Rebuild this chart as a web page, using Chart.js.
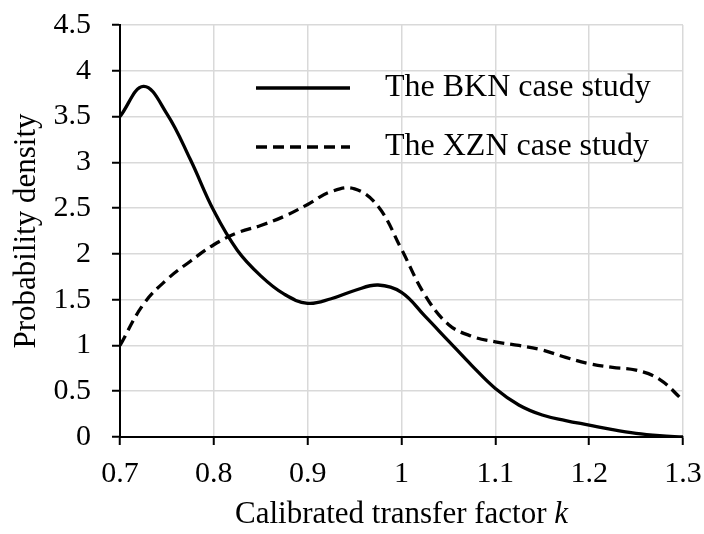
<!DOCTYPE html>
<html>
<head>
<meta charset="utf-8">
<script src="https://cdn.jsdelivr.net/npm/chart.js@4.4.0/dist/chart.umd.min.js"></script>
<style>
  html, body { margin: 0; padding: 0; background: #ffffff; }
  #wrap { width: 704px; height: 534px; }
</style>
</head>
<body>
<div id="wrap"><canvas id="c" width="704" height="534"></canvas></div>
<script>
// ---- data ----
const seriesNames = ["The BKN case study", "The XZN case study"];
const kValues = [0.7, 0.725, 0.75, 0.775, 0.8, 0.825, 0.85, 0.875, 0.9, 0.925, 0.95, 0.975, 1.0, 1.025, 1.05, 1.075, 1.1, 1.125, 1.15, 1.175, 1.2, 1.225, 1.25, 1.275, 1.3];
const pBKN = [3.5, 3.83, 3.53, 3.03, 2.47, 2.04, 1.76, 1.56, 1.46, 1.51, 1.6, 1.66, 1.58, 1.32, 1.05, 0.78, 0.53, 0.35, 0.24, 0.18, 0.13, 0.08, 0.04, 0.015, 0.0];
const pXZN = [1.0, 1.45, 1.72, 1.92, 2.1, 2.23, 2.31, 2.41, 2.54, 2.68, 2.71, 2.52, 2.05, 1.55, 1.23, 1.1, 1.04, 1.0, 0.95, 0.87, 0.8, 0.76, 0.73, 0.63, 0.4];
const xTickValues = [0.7, 0.8, 0.9, 1.0, 1.1, 1.2, 1.3];
const xTickLabels = ["0.7", "0.8", "0.9", "1", "1.1", "1.2", "1.3"];
const yTickValues = [0, 0.5, 1, 1.5, 2, 2.5, 3, 3.5, 4, 4.5];
const yTickLabels = ["0", "0.5", "1", "1.5", "2", "2.5", "3", "3.5", "4", "4.5"];
const xTitle = "Calibrated transfer factor ";
const xTitleItalic = "k";
const yTitle = "Probability density";

const FONT = "'Liberation Serif', 'Times New Roman', serif";
const toPts = (xs, ys) => xs.map((x, i) => ({ x: x, y: ys[i] }));

const legendPlugin = {
  id: 'inlineLegend',
  afterDatasetsDraw(chart) {
    const ctx = chart.ctx;
    const a = chart.chartArea;
    const x0 = a.left + 136, x1 = a.left + 230, tx = a.left + 265;
    const ys = [a.top + 63, a.top + 122];
    ctx.save();
    chart.data.datasets.forEach((ds, i) => {
      ctx.beginPath();
      ctx.lineWidth = ds.borderWidth;
      ctx.strokeStyle = ds.borderColor;
      ctx.setLineDash(ds.borderDash || []);
      ctx.moveTo(x0, ys[i]);
      ctx.lineTo(x1, ys[i]);
      ctx.stroke();
      ctx.setLineDash([]);
      ctx.fillStyle = '#000';
      ctx.font = "32px " + FONT;
      ctx.textBaseline = 'middle';
      ctx.textAlign = 'left';
      ctx.fillText(ds.label, tx, ys[i]);
    });
    ctx.restore();
  }
};

const xTitlePlugin = {
  id: 'xTitle',
  afterDraw(chart) {
    const ctx = chart.ctx;
    const a = chart.chartArea;
    ctx.save();
    ctx.fillStyle = '#000';
    ctx.textBaseline = 'middle';
    ctx.textAlign = 'left';
    ctx.font = "31px " + FONT;
    const w1 = ctx.measureText(xTitle).width;
    ctx.font = "italic 31px " + FONT;
    const w2 = ctx.measureText(xTitleItalic).width;
    const cx = (a.left + a.right) / 2;
    const y = a.bottom + 78;
    let x = cx - (w1 + w2) / 2;
    ctx.font = "31px " + FONT;
    ctx.fillText(xTitle, x, y);
    ctx.font = "italic 31px " + FONT;
    ctx.fillText(xTitleItalic, x + w1, y);
    ctx.restore();
  }
};

new Chart(document.getElementById('c'), {
  type: 'line',
  data: {
    datasets: [
      {
        label: seriesNames[0],
        data: toPts(kValues, pBKN),
        borderColor: '#000',
        borderWidth: 3.3,
        pointRadius: 0,
        fill: false,
        tension: 0.4
      },
      {
        label: seriesNames[1],
        data: toPts(kValues, pXZN),
        borderColor: '#000',
        borderWidth: 3.3,
        borderDash: [11, 6],
        pointRadius: 0,
        fill: false,
        tension: 0.4
      }
    ]
  },
  options: {
    responsive: false,
    animation: false,
    devicePixelRatio: 1,
    layout: { padding: { top: 25, right: 21, left: 0, bottom: 0 } },
    plugins: { legend: { display: false }, tooltip: { enabled: false } },
    scales: {
      x: {
        type: 'linear',
        min: 0.7,
        max: 1.3,
        afterBuildTicks: (s) => { s.ticks = xTickValues.map(v => ({ value: v })); },
        afterFit: (s) => { s.height = 97; s.paddingLeft = 0; s.paddingRight = 0; },
        ticks: {
          color: '#000',
          font: { family: FONT, size: 30 },
          padding: 11,
          maxRotation: 0,
          callback: (v) => { const i = xTickValues.findIndex(t => Math.abs(t - v) < 1e-9); return i >= 0 ? xTickLabels[i] : ''; }
        },
        grid: { color: '#d9d9d9', lineWidth: 1.5, tickColor: '#000', tickLength: 8, tickWidth: 2 },
        border: { color: '#000', width: 2 }
      },
      y: {
        min: 0,
        max: 4.5,
        afterBuildTicks: (s) => { s.ticks = yTickValues.map(v => ({ value: v })); },
        afterFit: (s) => { s.width = 120; s.paddingTop = 0; s.paddingBottom = 0; },
        ticks: {
          color: '#000',
          font: { family: FONT, size: 30 },
          padding: 21,
          callback: (v) => { const i = yTickValues.findIndex(t => Math.abs(t - v) < 1e-9); return i >= 0 ? yTickLabels[i] : ''; }
        },
        grid: { color: '#d9d9d9', lineWidth: 1.5, tickColor: '#000', tickLength: 8, tickWidth: 2 },
        border: { color: '#000', width: 2 },
        title: { display: true, text: yTitle, color: '#000', font: { family: FONT, size: 31 }, padding: { top: 8, bottom: 0 } }
      }
    }
  },
  plugins: [legendPlugin, xTitlePlugin]
});
</script>
</body>
</html>
